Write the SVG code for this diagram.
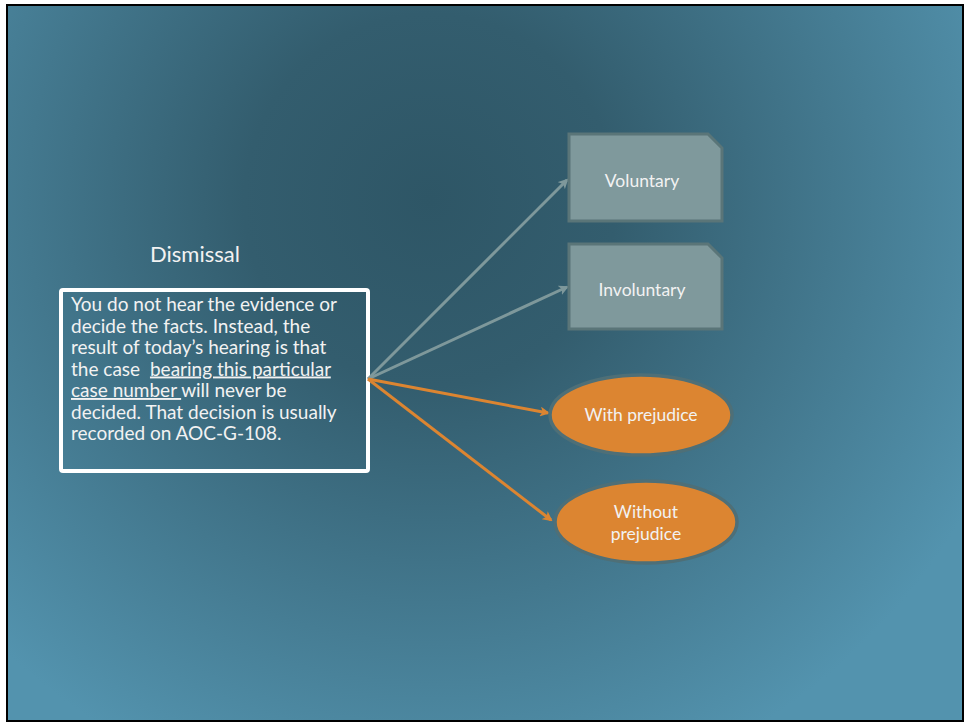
<svg xmlns="http://www.w3.org/2000/svg" width="966" height="723" viewBox="0 0 966 723">
<defs>
<radialGradient id="bg" gradientUnits="userSpaceOnUse" cx="430" cy="200" r="620">
<stop offset="0" stop-color="#2e5666"/>
<stop offset="0.3" stop-color="#335d6e"/>
<stop offset="1" stop-color="#5393ae"/>
</radialGradient>
<marker id="ag" markerWidth="10" markerHeight="10" refX="8" refY="5" orient="auto" markerUnits="userSpaceOnUse">
<path d="M0,0 L10,5 L0,10 L2.5,5 Z" fill="#7e989b"/>
</marker>
<marker id="ao" markerWidth="10" markerHeight="10" refX="8" refY="5" orient="auto" markerUnits="userSpaceOnUse">
<path d="M0,0 L10,5 L0,10 L2.5,5 Z" fill="#dc8531"/>
</marker>
<style>
.t{font-family:"Lato","Open Sans","Liberation Sans",sans-serif;fill:#f2f2f2}
.snip{fill:#7f999c;stroke:#5a7578;stroke-width:3}
.ell{fill:#dc8531;stroke:#4e6f77;stroke-width:3.5}
.cg{stroke:#7e989b;stroke-width:3;fill:none;marker-end:url(#ag)}
.co{stroke:#dc8531;stroke-width:3;fill:none;marker-end:url(#ao)}
</style>
</defs>
<rect x="0" y="0" width="966" height="723" fill="#ffffff"/>
<rect x="7" y="5" width="956" height="716" fill="url(#bg)" stroke="#000" stroke-width="2"/>
<g id="title">
<text class="t" x="150" y="262" font-size="22">Dismissal</text>
</g>
<g id="desc">
<rect x="61" y="290" width="307" height="181" rx="2" fill="none" stroke="#ffffff" stroke-width="4"/>
<text class="t" font-size="19">
<tspan x="71" y="311">You do not hear the evidence or</tspan>
<tspan x="71" y="332.5">decide the facts. Instead, the</tspan>
<tspan x="71" y="354">result of today’s hearing is that</tspan>
<tspan x="71" y="375.5">the case <tspan dx="5" text-decoration="underline">bearing this particular</tspan></tspan>
<tspan x="71" y="397"><tspan text-decoration="underline">case number </tspan>will never be</tspan>
<tspan x="71" y="418.5">decided. That decision is usually</tspan>
<tspan x="71" y="440">recorded on AOC-G-108.</tspan>
</text>
</g>
<g id="connectors">
<line class="cg" x1="368" y1="379" x2="567" y2="180"/>
<line class="cg" x1="368" y1="379" x2="567" y2="287"/>
<line class="co" x1="368" y1="379" x2="548" y2="413"/>
<line class="co" x1="368" y1="379" x2="551" y2="520"/>
</g>
<g id="voluntary">
<path class="snip" d="M569,134 H708 L722,148 V221 H569 Z"/>
<text class="t" x="642" y="187" font-size="17.5" text-anchor="middle">Voluntary</text>
</g>
<g id="involuntary">
<path class="snip" d="M569,244 H708 L722,258 V329 H569 Z"/>
<text class="t" x="642" y="296" font-size="17.5" text-anchor="middle">Involuntary</text>
</g>
<g id="with">
<ellipse class="ell" cx="641" cy="415" rx="91" ry="40"/>
<text class="t" x="641" y="421" font-size="17.5" text-anchor="middle">With prejudice</text>
</g>
<g id="without">
<ellipse class="ell" cx="646" cy="522" rx="91" ry="41"/>
<text class="t" x="646" y="518" font-size="17.5" text-anchor="middle">Without</text>
<text class="t" x="646" y="540" font-size="17.5" text-anchor="middle">prejudice</text>
</g>
</svg>
